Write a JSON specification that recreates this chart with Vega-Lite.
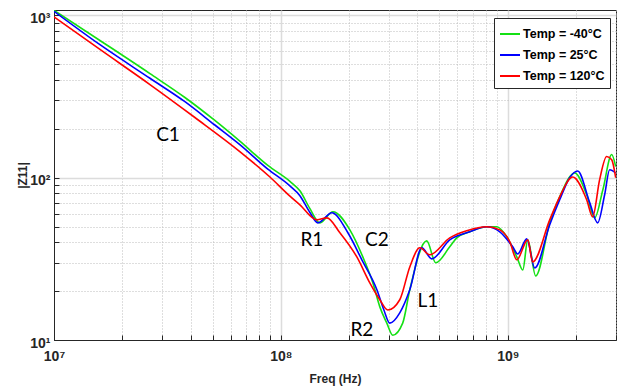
{
  "$schema": "https://vega.github.io/schema/vega-lite/v6.json",
  "width": 562,
  "height": 330,
  "autosize": {"type": "none"},
  "padding": {"left": 54, "top": 10, "right": 10, "bottom": 51},
  "background": "white",
  "config": {"view": {"stroke": "#262626", "strokeWidth": 1}, "font": "Liberation Sans"},
  "layer": [
    {
      "data": {"values": [
        {"t": "Temp = -40°C", "f": 1e7, "z": 1075},
        {"t": "Temp = -40°C", "f": 1.594e7, "z": 701},
        {"t": "Temp = -40°C", "f": 2.648e7, "z": 438},
        {"t": "Temp = -40°C", "f": 3.776e7, "z": 312},
        {"t": "Temp = -40°C", "f": 5.1e7, "z": 226},
        {"t": "Temp = -40°C", "f": 6.592e7, "z": 168},
        {"t": "Temp = -40°C", "f": 8.76e7, "z": 119},
        {"t": "Temp = -40°C", "f": 1.096e8, "z": 95},
        {"t": "Temp = -40°C", "f": 1.213e8, "z": 83},
        {"t": "Temp = -40°C", "f": 1.343e8, "z": 64.5},
        {"t": "Temp = -40°C", "f": 1.486e8, "z": 52.7},
        {"t": "Temp = -40°C", "f": 1.696e8, "z": 61.7},
        {"t": "Temp = -40°C", "f": 2.014e8, "z": 47.7},
        {"t": "Temp = -40°C", "f": 2.297e8, "z": 32.5},
        {"t": "Temp = -40°C", "f": 2.543e8, "z": 22.5},
        {"t": "Temp = -40°C", "f": 2.73e8, "z": 16.0},
        {"t": "Temp = -40°C", "f": 2.93e8, "z": 12.7},
        {"t": "Temp = -40°C", "f": 3.113e8, "z": 10.7},
        {"t": "Temp = -40°C", "f": 3.443e8, "z": 12.7},
        {"t": "Temp = -40°C", "f": 3.7e8, "z": 20.4},
        {"t": "Temp = -40°C", "f": 4.395e8, "z": 40.8},
        {"t": "Temp = -40°C", "f": 4.815e8, "z": 29.9},
        {"t": "Temp = -40°C", "f": 5.55e8, "z": 37.5},
        {"t": "Temp = -40°C", "f": 5.96e8, "z": 42.6},
        {"t": "Temp = -40°C", "f": 6.8e8, "z": 46.4},
        {"t": "Temp = -40°C", "f": 8.08e8, "z": 49.9},
        {"t": "Temp = -40°C", "f": 8.95e8, "z": 49.9},
        {"t": "Temp = -40°C", "f": 9.91e8, "z": 43.2},
        {"t": "Temp = -40°C", "f": 1.096e9, "z": 32.5},
        {"t": "Temp = -40°C", "f": 1.165e9, "z": 27.0},
        {"t": "Temp = -40°C", "f": 1.225e9, "z": 41.4},
        {"t": "Temp = -40°C", "f": 1.328e9, "z": 24.8},
        {"t": "Temp = -40°C", "f": 1.531e9, "z": 52.7},
        {"t": "Temp = -40°C", "f": 1.694e9, "z": 76.3},
        {"t": "Temp = -40°C", "f": 1.973e9, "z": 107},
        {"t": "Temp = -40°C", "f": 2.228e9, "z": 78.5},
        {"t": "Temp = -40°C", "f": 2.416e9, "z": 56.6},
        {"t": "Temp = -40°C", "f": 2.624e9, "z": 84},
        {"t": "Temp = -40°C", "f": 2.872e9, "z": 139},
        {"t": "Temp = -40°C", "f": 2.99e9, "z": 117},

        {"t": "Temp = 25°C", "f": 1e7, "z": 1060},
        {"t": "Temp = 25°C", "f": 1.594e7, "z": 660},
        {"t": "Temp = 25°C", "f": 2.648e7, "z": 410},
        {"t": "Temp = 25°C", "f": 3.776e7, "z": 294},
        {"t": "Temp = 25°C", "f": 5.1e7, "z": 212},
        {"t": "Temp = 25°C", "f": 6.592e7, "z": 160},
        {"t": "Temp = 25°C", "f": 8.76e7, "z": 113},
        {"t": "Temp = 25°C", "f": 1.096e8, "z": 89},
        {"t": "Temp = 25°C", "f": 1.213e8, "z": 77.5},
        {"t": "Temp = 25°C", "f": 1.343e8, "z": 61},
        {"t": "Temp = 25°C", "f": 1.456e8, "z": 52.7},
        {"t": "Temp = 25°C", "f": 1.679e8, "z": 60.8},
        {"t": "Temp = 25°C", "f": 1.974e8, "z": 45.8},
        {"t": "Temp = 25°C", "f": 2.275e8, "z": 31.2},
        {"t": "Temp = 25°C", "f": 2.65e8, "z": 20.4},
        {"t": "Temp = 25°C", "f": 2.845e8, "z": 15.3},
        {"t": "Temp = 25°C", "f": 3.02e8, "z": 12.7},
        {"t": "Temp = 25°C", "f": 3.342e8, "z": 14.7},
        {"t": "Temp = 25°C", "f": 3.7e8, "z": 20.4},
        {"t": "Temp = 25°C", "f": 4.18e8, "z": 37.0},
        {"t": "Temp = 25°C", "f": 4.625e8, "z": 31.6},
        {"t": "Temp = 25°C", "f": 5.55e8, "z": 41.4},
        {"t": "Temp = 25°C", "f": 6.8e8, "z": 46.4},
        {"t": "Temp = 25°C", "f": 8.08e8, "z": 49.9},
        {"t": "Temp = 25°C", "f": 9.23e8, "z": 46.4},
        {"t": "Temp = 25°C", "f": 1.052e9, "z": 37.5},
        {"t": "Temp = 25°C", "f": 1.107e9, "z": 33.9},
        {"t": "Temp = 25°C", "f": 1.213e9, "z": 42.0},
        {"t": "Temp = 25°C", "f": 1.315e9, "z": 27.8},
        {"t": "Temp = 25°C", "f": 1.531e9, "z": 51.3},
        {"t": "Temp = 25°C", "f": 1.694e9, "z": 73.1},
        {"t": "Temp = 25°C", "f": 1.875e9, "z": 100},
        {"t": "Temp = 25°C", "f": 2.033e9, "z": 110},
        {"t": "Temp = 25°C", "f": 2.297e9, "z": 70.2},
        {"t": "Temp = 25°C", "f": 2.49e9, "z": 52.7},
        {"t": "Temp = 25°C", "f": 2.673e9, "z": 78.5},
        {"t": "Temp = 25°C", "f": 2.812e9, "z": 112},
        {"t": "Temp = 25°C", "f": 2.99e9, "z": 107},

        {"t": "Temp = 120°C", "f": 1e7, "z": 980},
        {"t": "Temp = 120°C", "f": 1.594e7, "z": 617},
        {"t": "Temp = 120°C", "f": 2.648e7, "z": 375},
        {"t": "Temp = 120°C", "f": 4.178e7, "z": 235},
        {"t": "Temp = 120°C", "f": 6.592e7, "z": 145},
        {"t": "Temp = 120°C", "f": 8.95e7, "z": 101},
        {"t": "Temp = 120°C", "f": 1.096e8, "z": 77},
        {"t": "Temp = 120°C", "f": 1.213e8, "z": 68.1},
        {"t": "Temp = 120°C", "f": 1.442e8, "z": 55.0},
        {"t": "Temp = 120°C", "f": 1.595e8, "z": 56.6},
        {"t": "Temp = 120°C", "f": 1.82e8, "z": 45.8},
        {"t": "Temp = 120°C", "f": 2.162e8, "z": 32.5},
        {"t": "Temp = 120°C", "f": 2.466e8, "z": 22.5},
        {"t": "Temp = 120°C", "f": 2.73e8, "z": 17.7},
        {"t": "Temp = 120°C", "f": 2.96e8, "z": 15.3},
        {"t": "Temp = 120°C", "f": 3.342e8, "z": 17.7},
        {"t": "Temp = 120°C", "f": 3.7e8, "z": 28.2},
        {"t": "Temp = 120°C", "f": 4.095e8, "z": 37.0},
        {"t": "Temp = 120°C", "f": 4.53e8, "z": 33.5},
        {"t": "Temp = 120°C", "f": 5.55e8, "z": 42.6},
        {"t": "Temp = 120°C", "f": 6.59e8, "z": 47.1},
        {"t": "Temp = 120°C", "f": 8.08e8, "z": 49.9},
        {"t": "Temp = 120°C", "f": 9.23e8, "z": 47.7},
        {"t": "Temp = 120°C", "f": 1.021e9, "z": 40.3},
        {"t": "Temp = 120°C", "f": 1.096e9, "z": 31.2},
        {"t": "Temp = 120°C", "f": 1.225e9, "z": 41.4},
        {"t": "Temp = 120°C", "f": 1.288e9, "z": 30.3},
        {"t": "Temp = 120°C", "f": 1.531e9, "z": 55.0},
        {"t": "Temp = 120°C", "f": 1.694e9, "z": 76.3},
        {"t": "Temp = 120°C", "f": 1.933e9, "z": 101},
        {"t": "Temp = 120°C", "f": 2.228e9, "z": 73.1},
        {"t": "Temp = 120°C", "f": 2.367e9, "z": 57.4},
        {"t": "Temp = 120°C", "f": 2.541e9, "z": 97.3},
        {"t": "Temp = 120°C", "f": 2.729e9, "z": 135},
        {"t": "Temp = 120°C", "f": 2.872e9, "z": 129},
        {"t": "Temp = 120°C", "f": 2.99e9, "z": 100}
      ]},
      "mark": {"type": "line", "strokeWidth": 1.6, "interpolate": "monotone", "clip": true},
      "encoding": {
        "x": {
          "field": "f", "type": "quantitative",
          "scale": {"type": "log", "domain": [1e7, 3e9], "nice": false},
          "axis": {
            "values": [1e7, 2e7, 3e7, 4e7, 5e7, 6e7, 7e7, 8e7, 9e7, 1e8, 2e8, 3e8, 4e8, 5e8, 6e8, 7e8, 8e8, 9e8, 1e9, 2e9, 3e9],
            "labelExpr": "datum.value == 1e7 ? '10⁷' : datum.value == 1e8 ? '10⁸' : datum.value == 1e9 ? '10⁹' : ''",
            "grid": true,
            "gridColor": {"condition": {"test": "datum.value == 1e8 || datum.value == 1e9", "value": "#dcdcdc"}, "value": "#bdbdbd"},
            "gridDash": {"condition": {"test": "datum.value == 1e8 || datum.value == 1e9", "value": []}, "value": [1, 2]},
            "gridWidth": {"condition": {"test": "datum.value == 1e8 || datum.value == 1e9", "value": 1.5}, "value": 1},
            "tickSize": -5,
            "tickColor": "#262626",
            "domainColor": "#262626",
            "labelFontSize": 14, "labelFontWeight": "bold", "labelColor": "#262626",
            "labelPadding": 14, "labelFlush": false, "labelOverlap": false,
            "title": "Freq (Hz)", "titleFontSize": 12, "titleFontWeight": "bold", "titleColor": "#262626",
            "titleX": 281, "titleY": 38, "titleBaseline": "middle", "titleAlign": "center"
          }
        },
        "y": {
          "field": "z", "type": "quantitative",
          "scale": {"type": "log", "domain": [10, 1080], "nice": false},
          "axis": {
            "values": [10, 20, 30, 40, 50, 60, 70, 80, 90, 100, 200, 300, 400, 500, 600, 700, 800, 900, 1000],
            "labelExpr": "datum.value == 10 ? '10¹' : datum.value == 100 ? '10²' : datum.value == 1000 ? '10³' : ''",
            "grid": true,
            "gridColor": {"condition": {"test": "datum.value == 100 || datum.value == 1000", "value": "#dcdcdc"}, "value": "#bdbdbd"},
            "gridDash": {"condition": {"test": "datum.value == 100 || datum.value == 1000", "value": []}, "value": [1, 2]},
            "gridWidth": {"condition": {"test": "datum.value == 100 || datum.value == 1000", "value": 1.5}, "value": 1},
            "tickSize": -5,
            "tickColor": "#262626",
            "domainColor": "#262626",
            "labelFontSize": 14, "labelFontWeight": "bold", "labelColor": "#262626",
            "labelPadding": 9, "labelOffset": 3, "labelFlush": false, "labelOverlap": false,
            "title": "|Z11|", "titleFontSize": 12, "titleFontWeight": "bold", "titleColor": "#262626",
            "titleX": -32, "titleY": 165, "titleAngle": 270, "titleBaseline": "middle", "titleAlign": "center"
          }
        },
        "color": {
          "field": "t", "type": "nominal",
          "scale": {"domain": ["Temp = -40°C", "Temp = 25°C", "Temp = 120°C"], "range": ["#14e014", "#0000ff", "#ff0000"]},
          "legend": {
            "orient": "none", "legendX": 440, "legendY": 8, "title": null,
            "symbolType": "stroke", "symbolSize": 400, "symbolStrokeWidth": 2,
            "labelFont": "Liberation Sans", "labelFontSize": 12.5, "labelFontWeight": "bold", "labelColor": "#000000",
            "fillColor": "white", "strokeColor": "#262626", "padding": 5, "rowPadding": 3, "labelOffset": 2
          }
        }
      }
    },
    {
      "data": {"values": [
        {"label": "C1", "f": 3.18e7, "z": 184},
        {"label": "R1", "f": 1.37e8, "z": 41.4},
        {"label": "C2", "f": 2.65e8, "z": 41.4},
        {"label": "R2", "f": 2.275e8, "z": 11.5},
        {"label": "L1", "f": 4.45e8, "z": 17.4}
      ]},
      "mark": {"type": "text", "font": "Lato", "fontSize": 19, "color": "#000000", "align": "center", "baseline": "middle"},
      "encoding": {
        "x": {"field": "f", "type": "quantitative", "title": "Freq (Hz)"},
        "y": {"field": "z", "type": "quantitative", "title": "|Z11|"},
        "text": {"field": "label"}
      }
    }
  ]
}
